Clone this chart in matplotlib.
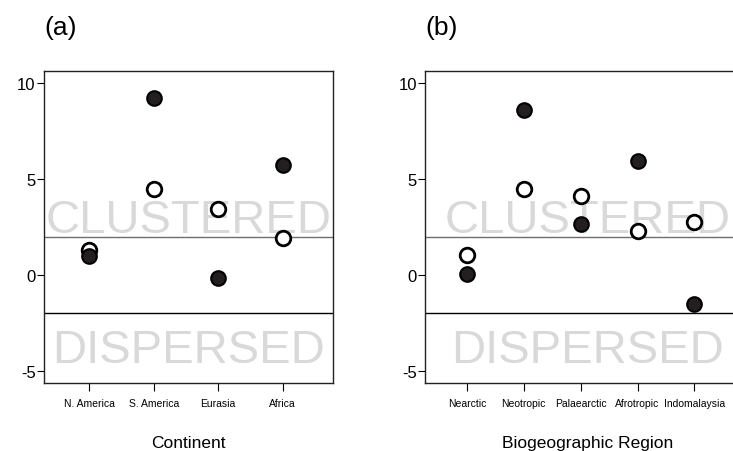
import matplotlib
matplotlib.use("Agg")
import matplotlib.pyplot as plt

plt.rcParams['font.family'] = ['Liberation Sans', 'DejaVu Sans']

# Panel (a): continents
continents = ["N. America", "S. America", "Eurasia", "Africa"]
cont_open = [1.3, 4.45, 3.45, 1.95]
cont_filled = [1.0, 9.2, -0.17, 5.72]

# Panel (b): biogeographic regions
regions = ["Nearctic", "Neotropic", "Palaearctic", "Afrotropic", "Indomalaysia"]
reg_open = [1.05, 4.47, 4.1, 2.28, 2.78]
reg_filled = [0.08, 8.6, 2.65, 5.93, -1.48]

yticks = [-5, 0, 5, 10]
threshold = 1.96

fig = plt.figure(figsize=(7.33, 4.52), dpi=100)

ax_a = fig.add_axes([44 / 733, 1 - 384 / 452, (333 - 44) / 733, (384 - 72) / 452])
ax_b = fig.add_axes([425.3 / 733, 1 - 384 / 452, (749.7 - 425.3) / 733, (384 - 72) / 452])


def draw_panel(ax, labels, open_vals, filled_vals, xlim, xlabel, tag):
    x = list(range(1, len(labels) + 1))
    ax.set_xlim(*xlim)
    ax.set_ylim(-5.6, 10.6)

    ax.text(0.5, 2.23, "CLUSTERED", transform=ax.get_yaxis_transform(),
            ha="center", va="baseline", fontsize=34, color="#d9d9d9", zorder=1)
    ax.text(0.5, -4.51, "DISPERSED", transform=ax.get_yaxis_transform(),
            ha="center", va="baseline", fontsize=34, color="#d9d9d9", zorder=1)

    ax.axhline(threshold, color="#6e6e6e", lw=1.0, zorder=2)
    ax.axhline(-threshold, color="black", lw=1.0, zorder=2)

    ax.plot(x, open_vals, linestyle="none", marker="o", markersize=10.5,
            markerfacecolor="white", markeredgecolor="black",
            markeredgewidth=2.0, zorder=3)
    ax.plot(x, filled_vals, linestyle="none", marker="o", markersize=10.5,
            markerfacecolor="#231f20", markeredgecolor="black",
            markeredgewidth=1.5, zorder=4)

    ax.set_xticks(x)
    ax.set_xticklabels(labels, fontsize=7.5)
    ax.set_yticks(yticks)
    ax.set_yticklabels([str(v) for v in yticks], fontsize=12)
    ax.tick_params(axis="x", direction="out", length=6, width=0.8, pad=5)
    ax.tick_params(axis="y", direction="out", length=5, width=0.8, pad=1)
    for s in ax.spines.values():
        s.set_linewidth(1.0)
        s.set_color("#222222")

    ax.set_xlabel(xlabel, fontsize=12.5, labelpad=19)
    ax.text(0.0, 1.0 + 44 / 312, tag, transform=ax.transAxes,
            fontsize=19, ha="left", va="center")


draw_panel(ax_a, continents, cont_open, cont_filled, (0.3, 4.78), "Continent", "(a)")
draw_panel(ax_b, regions, reg_open, reg_filled, (0.27, 5.97), "Biogeographic Region", "(b)")

fig.savefig("out.png", dpi=100)
